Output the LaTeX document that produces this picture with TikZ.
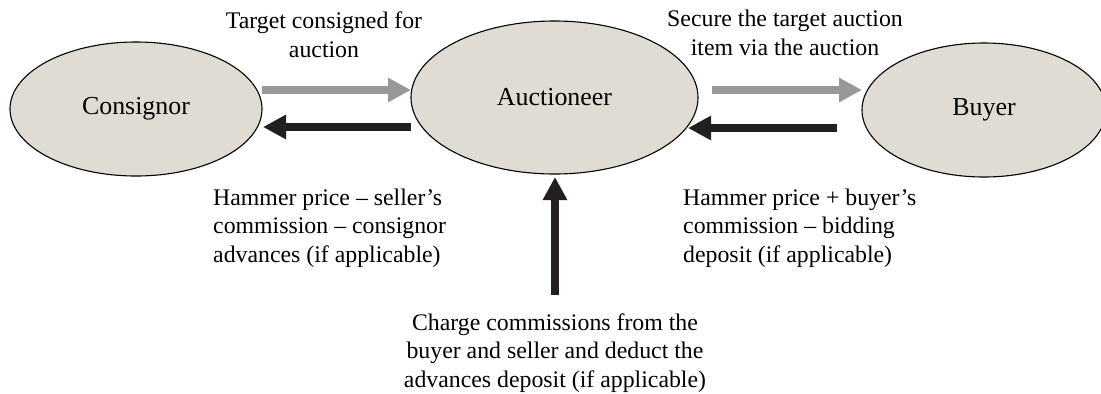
\documentclass[tikz,border=0pt]{standalone}
\usepackage{fontspec}
\setmainfont{Liberation Serif}
\usetikzlibrary{arrows.meta,shapes.geometric}
\definecolor{shell}{HTML}{E1DCD3}
\definecolor{goodsflow}{HTML}{96989A}
\definecolor{moneyflow}{HTML}{231F20}
\tikzset{
  party/.style={ellipse, draw=black, line width=1.1bp, fill=shell, inner sep=0pt,
    font=\fontsize{26}{31}\selectfont},
  flowlabel/.style={inner sep=0pt, font=\fontsize{23.9}{28.5}\selectfont},
  goods/.style={draw=goodsflow, line width=8bp,
    -{Triangle[length=23bp,width=23bp]}},
  money/.style={draw=moneyflow, line width=8bp,
    -{Triangle[length=23bp,width=23bp]}},
}
\begin{document}
\begin{tikzpicture}[x=1bp,y=-1bp]
  \useasboundingbox (0,0) rectangle (1101,393);
  \clip (0,0) rectangle (1101,393);

  % the three parties
  \node[party, minimum width=252bp, minimum height=134bp] (consignor) at (136,109) {Consignor};
  \node[party, minimum width=287bp, minimum height=153bp] (auctioneer) at (554.5,97.5) {Auctioneer};
  \node[party, minimum width=244bp, minimum height=134bp] (buyer) at (984,110) {Buyer};

  % end points of the flows
  \coordinate (cOut) at (262,90);
  \coordinate (aIn)  at (411,90);
  \coordinate (aPay) at (411,127);
  \coordinate (cIn)  at (263,127);
  \coordinate (aOut) at (712,90);
  \coordinate (bIn)  at (862,90);
  \coordinate (bPay) at (837,128);
  \coordinate (aRec) at (688,128);
  \coordinate (fee)  at (555,295);
  \coordinate (aBot) at (555,177);

  % flows of goods and money
  \draw[goods] (cOut) -- (aIn);
  \draw[money] (aPay) -- (cIn);
  \draw[goods] (aOut) -- (bIn);
  \draw[money] (bPay) -- (aRec);
  \draw[money] (fee) -- (aBot);

  % captions (base anchor sits on the last line)
  \node[flowlabel, align=center, anchor=base] (l1) at (324,57)
    {Target consigned for\\auction};
  \node[flowlabel, align=center, anchor=base] (l2) at (785,55)
    {Secure the target auction\\item via the auction};
  \node[flowlabel, align=left, anchor=base west] (l3) at (213,262)
    {Hammer price -- seller’s\\commission -- consignor\\advances (if applicable)};
  \node[flowlabel, align=left, anchor=base west] (l4) at (683,262)
    {Hammer price + buyer’s\\commission -- bidding\\deposit (if applicable)};
  \node[flowlabel, align=center, anchor=base] (l5) at (555,387)
    {Charge commissions from the\\buyer and seller and deduct the\\advances deposit (if applicable)};
\end{tikzpicture}
\end{document}
